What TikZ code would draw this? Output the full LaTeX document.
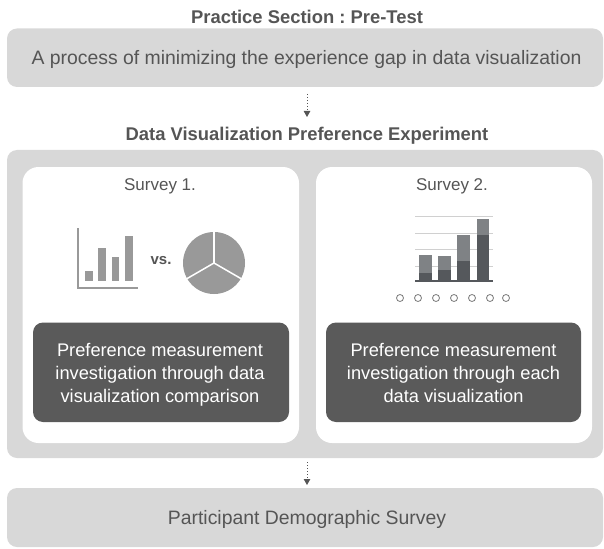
\documentclass[tikz,border=0pt]{standalone}
\usepackage{fontspec}
\setmainfont{Liberation Sans}
\usetikzlibrary{arrows.meta}
\frenchspacing
\definecolor{panel}{HTML}{D8D8D8}
\definecolor{ink}{HTML}{555555}
\definecolor{darkbox}{HTML}{5A5A5A}
\definecolor{icon}{HTML}{999999}
\definecolor{barlight}{HTML}{7F8285}
\definecolor{bardark}{HTML}{55585C}
\definecolor{grid}{HTML}{D0D0D0}
\tikzset{
  panelbox/.style={fill=panel, draw=none, rounded corners=10pt},
  cardbox/.style={fill=white, draw=none, rounded corners=16pt},
  darkcard/.style={fill=darkbox, draw=none, rounded corners=10pt},
  heading/.style={font=\fontsize{18.4}{22}\selectfont\bfseries, text=ink},
  bodytext/.style={font=\fontsize{19.4}{23}\selectfont, text=ink},
  cardtitle/.style={font=\fontsize{17}{20}\selectfont, text=ink},
  cardtext/.style={font=\fontsize{18.25}{22.7}\selectfont, text=white, align=center},
  flow/.style={draw=ink, line width=1pt, dotted, -{Triangle[length=6pt,width=6.5pt]}},
  dot/.style={circle, draw=icon!80!black, line width=0.8pt, fill=white, minimum size=7pt, inner sep=0pt},
}
\begin{document}
\begin{tikzpicture}[x=1pt,y=-1pt]
\useasboundingbox (0,0) rectangle (604,548);

% --- pre-test stage
\node[heading] (t1) at (307,16.5) {Practice Section : Pre-Test};
\fill[panelbox] (7,28.5) rectangle (603,87);
\node[bodytext] (pre) at (306.5,59) {A process of minimizing the experience gap in data visualization};
\coordinate (a1s) at (307,94);
\coordinate (a1e) at (307,117);
\draw[flow] (a1s) -- (a1e);

% --- experiment stage
\node[heading] (t2) at (307,136) {Data Visualization Preference Experiment};
\fill[panelbox] (7,150) rectangle (603,458);
\fill[cardbox] (22.5,167) rectangle (299,443);
\fill[cardbox] (316,167) rectangle (592,443);
\node[cardtitle] (s1) at (160,186) {Survey 1.};
\node[cardtitle] (s2) at (452,186) {Survey 2.};

% survey 1 icons: bar chart vs. pie chart
\draw[icon, line width=2.4pt] (78,228) -- (78,288) -- (138,288);
\fill[icon] (85,271) rectangle (93,281);
\fill[icon] (98,248) rectangle (106,281);
\fill[icon] (112,257) rectangle (119,281);
\fill[icon] (125,236) rectangle (133,281);
\node[font=\fontsize{15}{18}\selectfont\bfseries, text=ink] (vs) at (161,261) {vs.};
\fill[icon] (214,263) circle (31);
\draw[white, line width=1.5pt] (214,263) -- ++(0,-31.5);
\draw[white, line width=1.5pt] (214,263) -- ++(-27.3,15.8);
\draw[white, line width=1.5pt] (214,263) -- ++(27.3,15.8);

% survey 2 icons: stacked bars and rating scale
\foreach \y in {216,233,249,266}
  \draw[grid, line width=1pt] (415,\y) -- (493,\y);
\fill[barlight] (419,255) rectangle (432,281);
\fill[bardark]  (419,273) rectangle (432,281);
\fill[barlight] (438,256) rectangle (451,281);
\fill[bardark]  (438,270) rectangle (451,281);
\fill[barlight] (457,235) rectangle (470,281);
\fill[bardark]  (457,261) rectangle (470,281);
\fill[barlight] (477,219) rectangle (489,281);
\fill[bardark]  (477,235) rectangle (489,281);
\draw[bardark, line width=1.2pt] (415,281) -- (493,281);
\foreach \x [count=\i] in {400,418,436,454,472,490,506}
  \node[dot] (r\i) at (\x,298) {};

% description cards
\fill[darkcard] (33,322.5) rectangle (289,422);
\node[cardtext] (d1) at (160,374.8) {\strut Preference measurement\\investigation through data\\visualization comparison\strut};
\fill[darkcard] (326,322.5) rectangle (581,422);
\node[cardtext] (d2) at (453.5,374.8) {\strut Preference measurement\\investigation through each\\data visualization\strut};

\coordinate (a2s) at (307,462);
\coordinate (a2e) at (307,485);
\draw[flow] (a2s) -- (a2e);

% --- demographic stage
\fill[panelbox] (7,488) rectangle (603,547);
\node[bodytext] (demo) at (307,519) {Participant Demographic Survey};
\end{tikzpicture}
\end{document}
